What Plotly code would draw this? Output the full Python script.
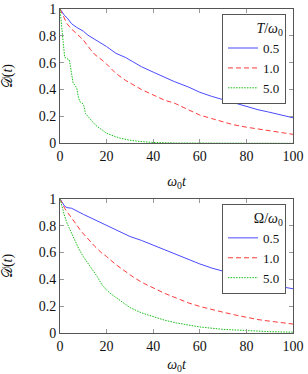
import plotly.graph_objects as go

# ---- data ----
# top panel: legend T/omega0
t_top_blue = [0, 1, 2, 3, 5, 7, 10, 12, 15, 18, 20, 24, 28, 31, 35, 40, 45, 49, 55, 60, 65, 70, 74, 80, 85, 89, 95, 100]
d_top_blue = [1.0, 0.97, 0.95, 0.935, 0.89, 0.865, 0.835, 0.805, 0.775, 0.745, 0.72, 0.67, 0.64, 0.61, 0.57, 0.53, 0.49, 0.46, 0.42, 0.38, 0.35, 0.325, 0.30, 0.27, 0.25, 0.235, 0.21, 0.19]
t_top_red = [0, 1, 2, 3, 5, 8, 10, 13, 15, 18, 20, 24, 28, 31, 35, 40, 45, 49, 55, 60, 65, 70, 74, 80, 85, 89, 95, 100]
d_top_red = [1.0, 0.96, 0.92, 0.89, 0.85, 0.80, 0.77, 0.70, 0.66, 0.62, 0.59, 0.52, 0.47, 0.44, 0.40, 0.36, 0.32, 0.30, 0.25, 0.21, 0.185, 0.16, 0.14, 0.12, 0.105, 0.094, 0.08, 0.067]
t_top_green = [0, 0.5, 1, 1.5, 2, 3, 4, 4.5, 5, 5.6, 6.5, 7.2, 7.8, 8.5, 9.5, 10.2, 11, 12, 13, 14, 15, 16, 17, 18, 20, 22, 24, 26, 28, 30, 33, 36, 40, 50, 60, 80, 100]
d_top_green = [1.0, 0.9, 0.8, 0.7, 0.64, 0.63, 0.62, 0.57, 0.50, 0.45, 0.43, 0.41, 0.35, 0.31, 0.30, 0.28, 0.22, 0.20, 0.18, 0.155, 0.14, 0.125, 0.11, 0.10, 0.075, 0.06, 0.048, 0.038, 0.03, 0.023, 0.016, 0.01, 0.006, 0.002, 0.001, 0.0, 0.0]

# bottom panel: legend Omega/omega0
t_bot_blue = [0, 1, 2, 3, 5, 10, 15, 20, 25, 30, 35, 40, 45, 50, 55, 60, 65, 70, 75, 80, 85, 90, 95, 100]
d_bot_blue = [1.0, 0.97, 0.945, 0.935, 0.93, 0.885, 0.845, 0.805, 0.76, 0.72, 0.69, 0.655, 0.62, 0.58, 0.545, 0.515, 0.485, 0.46, 0.435, 0.41, 0.385, 0.365, 0.345, 0.33]
t_bot_red = [0, 1, 2, 3, 5, 7, 9, 11, 13, 15, 18, 20, 24, 28, 32, 36, 40, 45, 50, 55, 60, 65, 70, 75, 80, 85, 90, 95, 100]
d_bot_red = [1.0, 0.96, 0.93, 0.905, 0.86, 0.81, 0.76, 0.72, 0.68, 0.645, 0.595, 0.57, 0.51, 0.46, 0.41, 0.37, 0.335, 0.295, 0.26, 0.225, 0.198, 0.175, 0.155, 0.135, 0.115, 0.10, 0.088, 0.077, 0.067]
t_bot_green = [0, 1, 2, 3, 4, 5, 6, 7, 8, 10, 12, 14, 16, 18, 20, 22, 25, 30, 35, 40, 45, 50, 60, 70, 80, 90, 100]
d_bot_green = [1.0, 0.93, 0.87, 0.82, 0.78, 0.74, 0.70, 0.66, 0.63, 0.57, 0.52, 0.47, 0.42, 0.36, 0.32, 0.29, 0.255, 0.19, 0.15, 0.12, 0.095, 0.075, 0.045, 0.027, 0.016, 0.01, 0.006]

series_names = ["0.5", "1.0", "5.0"]
x_ticks = [0, 20, 40, 60, 80, 100]
y_ticks = [0, 0.2, 0.4, 0.6, 0.8, 1]
y_tick_text = ["0", "0.2", "0.4", "0.6", "0.8", "1"]

colors = ["#4a4aff", "#ff3a3a", "#18c018"]
dashes = ["solid", "5px,3px", "1.5px,1.2px"]

FONT = "Liberation Serif"

fig = go.Figure()
top = [(t_top_blue, d_top_blue), (t_top_red, d_top_red), (t_top_green, d_top_green)]
bot = [(t_bot_blue, d_bot_blue), (t_bot_red, d_bot_red), (t_bot_green, d_bot_green)]
for i, (t, d) in enumerate(top):
    fig.add_trace(go.Scatter(x=t, y=d, mode="lines", name=series_names[i],
                             line=dict(color=colors[i], dash=dashes[i], width=1),
                             xaxis="x", yaxis="y", legend="legend"))
for i, (t, d) in enumerate(bot):
    fig.add_trace(go.Scatter(x=t, y=d, mode="lines", name=series_names[i],
                             line=dict(color=colors[i], dash=dashes[i], width=1),
                             xaxis="x2", yaxis="y2", legend="legend2"))

axis_common = dict(showline=True, linecolor="#555555", linewidth=1, mirror="ticks",
                   ticks="inside", ticklen=4, tickcolor="#999999", tickwidth=1,
                   showgrid=False, zeroline=False, automargin=False,
                   tickfont=dict(family=FONT, size=14, color="#111"))

xt = "<i>ω</i><sub>0</sub><i>t</i>"
yt = "𝒟(<i>t</i>)"

fig.update_layout(
    width=308, height=374,
    margin=dict(l=60, r=15, t=9, b=41),
    paper_bgcolor="white", plot_bgcolor="white",
    font=dict(family=FONT, size=14, color="#111"),
    xaxis=dict(domain=[0, 1], anchor="y", range=[0, 100], tickvals=x_ticks,
               title=dict(text=xt, standoff=13, font=dict(family=FONT, size=14)), **axis_common),
    yaxis=dict(domain=[0.5855, 1], anchor="x", range=[0, 1], tickvals=y_ticks, ticktext=y_tick_text,
               title=dict(text=yt, standoff=22, font=dict(family=FONT, size=14)), **axis_common),
    xaxis2=dict(domain=[0, 1], anchor="y2", range=[0, 100], tickvals=x_ticks,
                title=dict(text=xt, standoff=11, font=dict(family=FONT, size=14)), **axis_common),
    yaxis2=dict(domain=[0, 0.4139], anchor="x2", range=[0, 1], tickvals=y_ticks, ticktext=y_tick_text,
                title=dict(text=yt, standoff=22, font=dict(family=FONT, size=14)), **axis_common),
    legend=dict(x=0.970, y=0.985, xanchor="right", yanchor="top",
                bordercolor="#555555", borderwidth=1, bgcolor="white",
                font=dict(family=FONT, size=13),
                title=dict(text="<i>T</i>/<i>ω</i><sub>0</sub>", side="top right",
                           font=dict(family=FONT, size=14)),
                itemwidth=30, tracegroupgap=0),
    legend2=dict(x=0.970, y=0.399, xanchor="right", yanchor="top",
                 bordercolor="#555555", borderwidth=1, bgcolor="white",
                 font=dict(family=FONT, size=13),
                 title=dict(text="Ω/<i>ω</i><sub>0</sub>", side="top right",
                            font=dict(family=FONT, size=14)),
                 itemwidth=30, tracegroupgap=0),
    showlegend=True,
)

fig.write_html("out.html", config={"displayModeBar": False},
               post_script="document.body.style.margin='0';")
